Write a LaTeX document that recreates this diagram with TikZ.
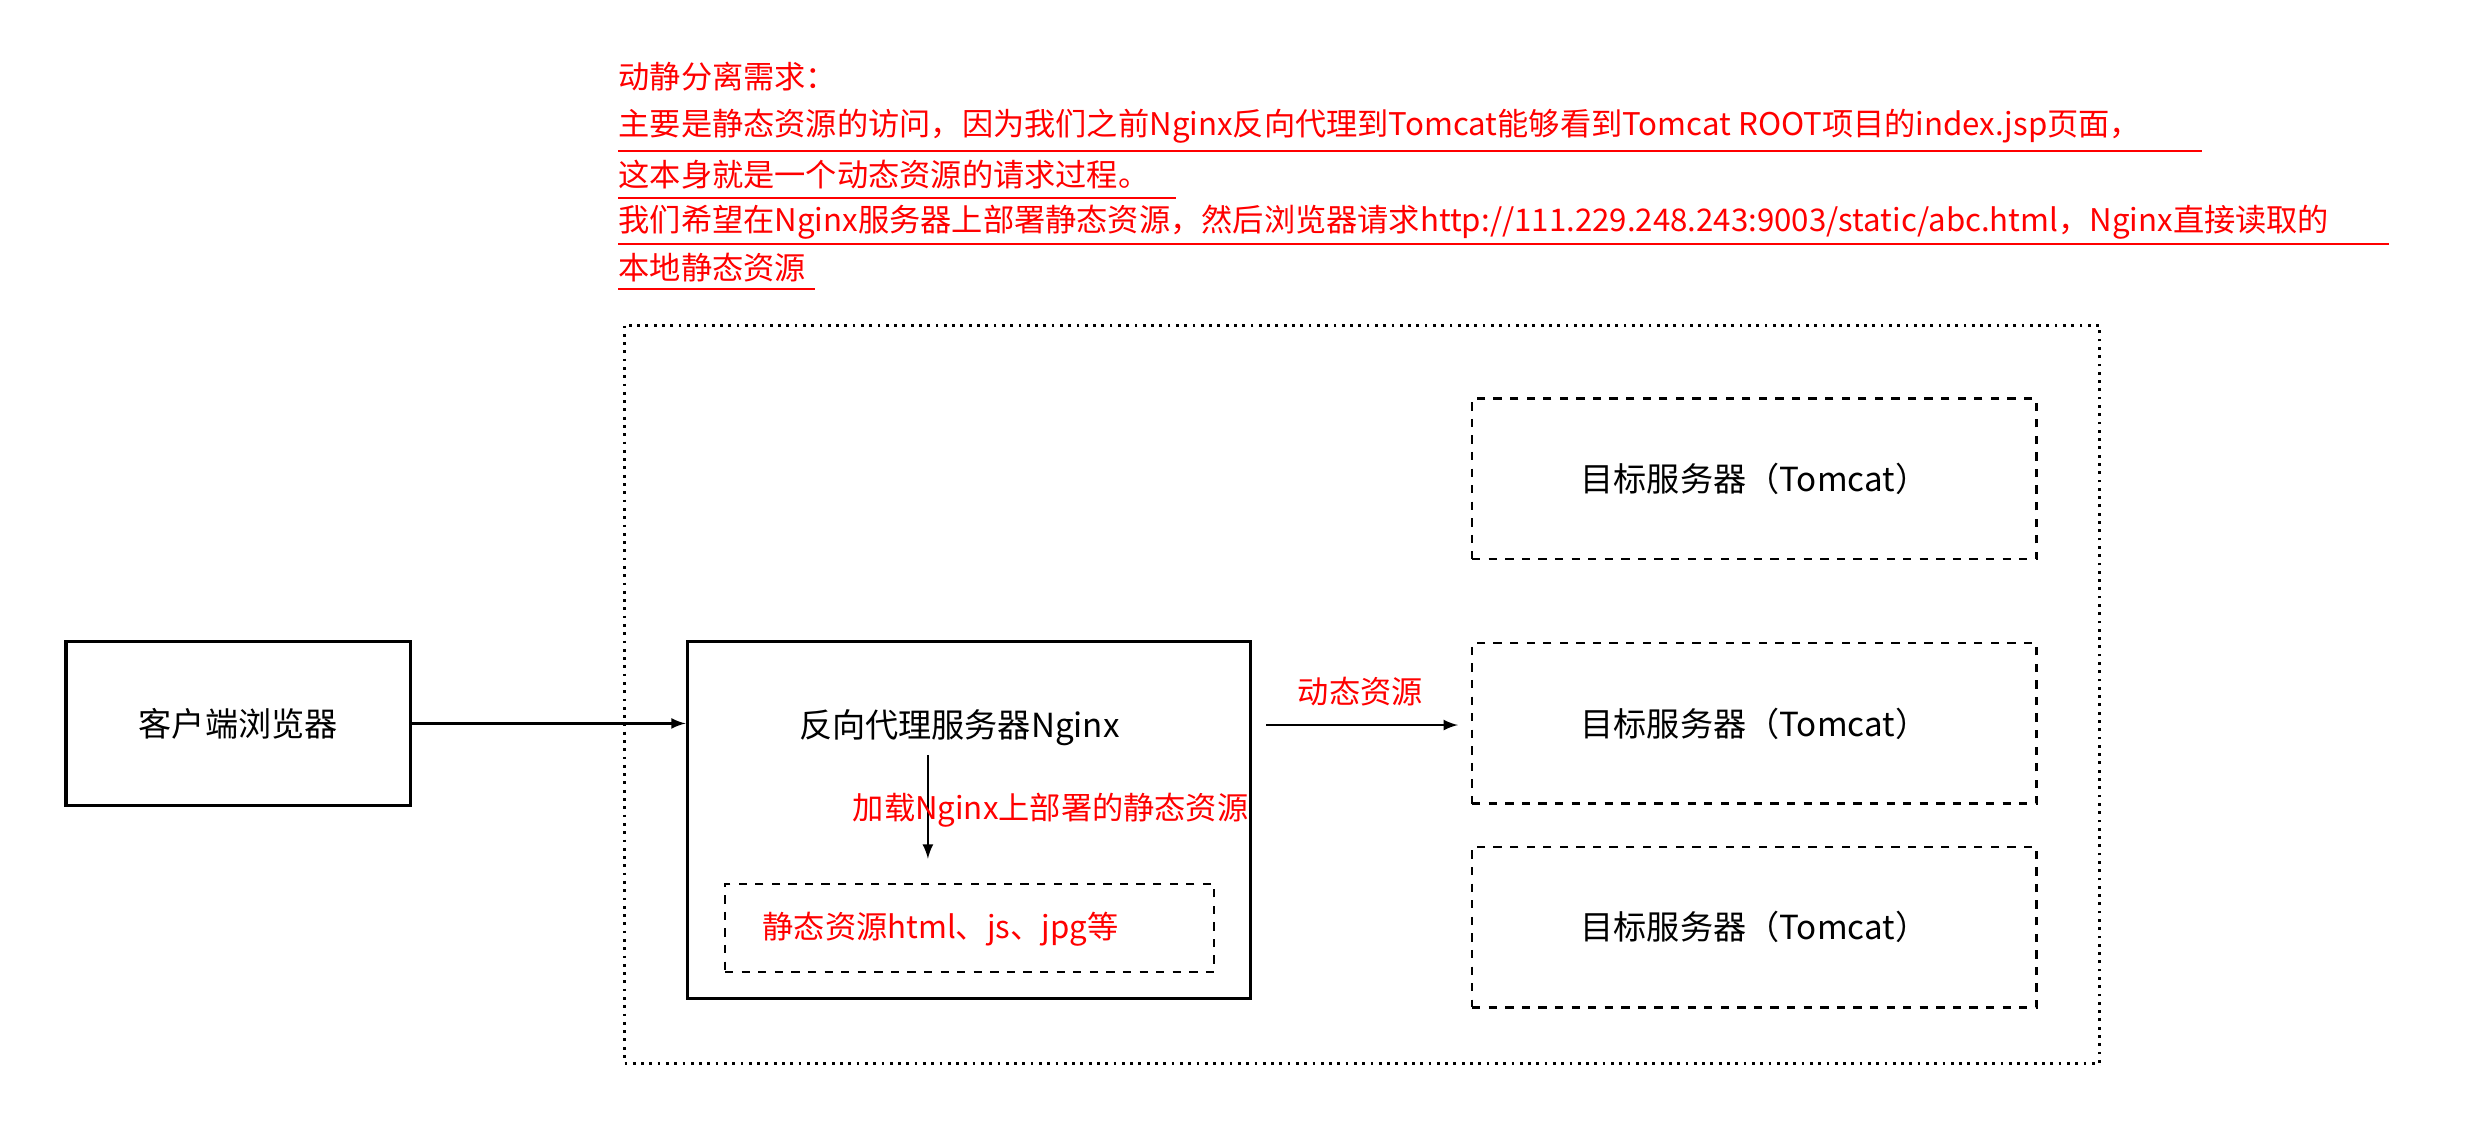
\documentclass[tikz,border=0pt]{standalone}
\usepackage{fontspec}
\setmainfont{Noto Sans CJK SC}
\begin{document}
\begin{tikzpicture}[x=0.02cm,y=-0.02cm,
  solidbox/.style={draw,line width=1.2pt},
  dashbox/.style={draw,dashed,line width=0.9pt},
  redtxt/.style={text=red,font=\fontsize{11.3}{13}\selectfont,inner sep=0pt},
  blktxt/.style={font=\fontsize{12}{14}\selectfont},
  arr/.style={-latex,line width=0.8pt},
  uline/.style={red,line width=0.8pt}]
\useasboundingbox (0,0) rectangle (1568,720);
% header
\foreach \t/\y [count=\i] in {{动静分离需求：}/49,{主要是静态资源的访问，因为我们之前Nginx反向代理到Tomcat能够看到Tomcat ROOT项目的index.jsp页面，}/80,{这本身就是一个动态资源的请求过程。}/111,{我们希望在Nginx服务器上部署静态资源，然后浏览器请求http://111.229.248.243:9003/static/abc.html，Nginx直接读取的}/141,{本地静态资源}/170}
  \node[redtxt,anchor=west] (h\i) at (393,\y) {\t};
\draw[uline] (393,96) coordinate (u1) -- (1400,96) coordinate (u2);
\draw[uline] (393,126) coordinate (u3) -- (748,126) coordinate (u4);
\draw[uline] (393,155) coordinate (u5) -- (1519,155) coordinate (u6);
\draw[uline] (393,184) coordinate (u7) -- (518,184) coordinate (u8);
% outer
\draw[dotted,line width=1pt] (397,207) rectangle (1335,676);
\node[solidbox,minimum width=219*0.02cm,minimum height=104*0.02cm,blktxt] (client) at (151.5,460) {客户端浏览器};
\node[solidbox,minimum width=358*0.02cm,minimum height=227*0.02cm] (nginx) at (616,521.5) {};
\node[blktxt] (ntxt) at (610,463) {反向代理服务器Nginx};
\node[dashbox,minimum width=311*0.02cm,minimum height=56*0.02cm] (static) at (616.5,590) {};
\node[redtxt] (stxt) at (598,591) {静态资源html、js、jpg等};
\foreach \y [count=\i] in {304.5,460,589.5}
  \node[dashbox,minimum width=359*0.02cm,minimum height=102*0.02cm,blktxt] (t\i) at (1115.5,\y) {目标服务器（Tomcat）};
\draw[arr] (client.east) -- (client.east -| nginx.west);
\coordinate (a1) at (590,480); \coordinate (a2) at (590,546);
\draw[arr] (a1) -- (a2);
\node[redtxt] (lbl) at (668,515) {加载Nginx上部署的静态资源};
\coordinate (b1) at (805,461); \coordinate (b2) at (927,461);
\draw[arr] (b1) -- (b2);
\node[redtxt] (dyn) at (865,440) {动态资源};
\end{tikzpicture}
\end{document}
